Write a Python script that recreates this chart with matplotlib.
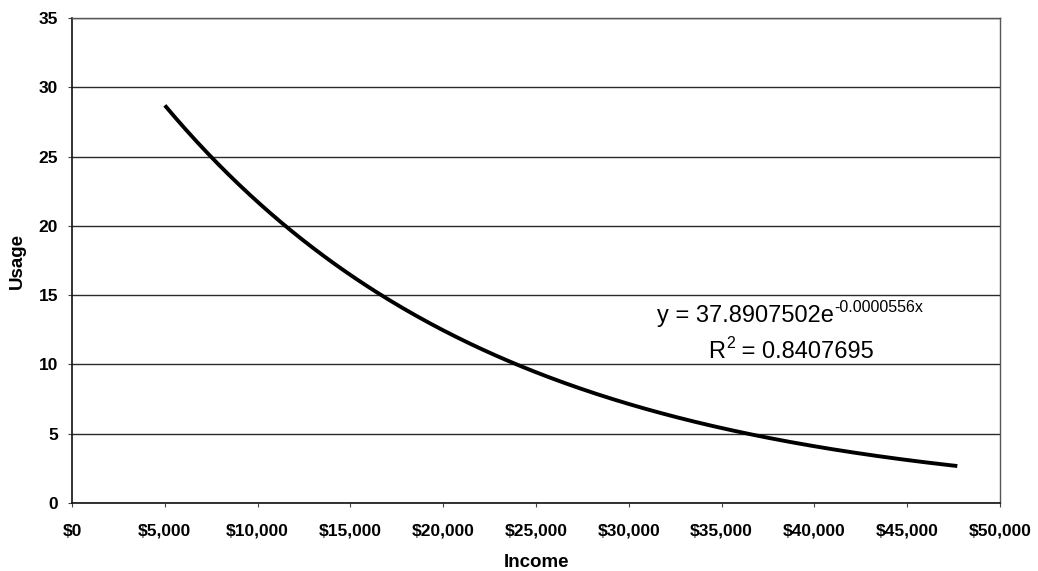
import matplotlib

matplotlib.use("Agg")

import matplotlib.pyplot as plt
import numpy as np
from matplotlib.ticker import FuncFormatter

# exponential trendline: usage = coef * exp(rate * income)
trend_coef = 37.8907502
trend_rate = -0.0000556
r_squared = 0.8407695

income_start = 5000
income_end = 47700

x_ticks = [0, 5000, 10000, 15000, 20000, 25000, 30000, 35000, 40000, 45000, 50000]
y_ticks = [0, 5, 10, 15, 20, 25, 30, 35]

plt.rcParams["font.family"] = ["Liberation Sans", "DejaVu Sans"]

fig = plt.figure(figsize=(10.38, 5.71), dpi=100)
ax = fig.add_axes([0.0694, 0.119, 0.894, 0.8495])

income = np.linspace(income_start, income_end, 300)
usage = trend_coef * np.exp(trend_rate * income)
ax.plot(income, usage, color="black", linewidth=2.8, solid_capstyle="butt")

ax.set_xlim(0, 50000)
ax.set_ylim(0, 35)
ax.set_xticks(x_ticks)
ax.set_yticks(y_ticks)
ax.xaxis.set_major_formatter(FuncFormatter(lambda v, p: "${:,.0f}".format(v)))

ax.grid(True, axis="y", color="#2a2a2a", linewidth=1.0)
ax.set_axisbelow(True)

for side in ["left", "bottom"]:
    ax.spines[side].set_color("#111111")
    ax.spines[side].set_linewidth(1.2)
for side in ["top", "right"]:
    ax.spines[side].set_color("#555555")
    ax.spines[side].set_linewidth(1.0)
    ax.spines[side].set_linestyle((0, (3, 1)))

ax.tick_params(axis="both", direction="out", length=3, width=0.8, color="#444444")
ax.tick_params(axis="x", pad=12)
ax.tick_params(axis="y", pad=7)
for lbl in ax.get_xticklabels() + ax.get_yticklabels():
    lbl.set_fontweight("bold")
    lbl.set_fontsize(12.5)

ax.set_xlabel("Income", fontsize=13.5, fontweight="bold", labelpad=11)
ax.set_ylabel("Usage", fontsize=13.5, fontweight="bold", labelpad=9)

# trendline equation with raised exponent
eq_y = 13.06
eq_main = ax.text(31520, eq_y, "y = {:.7f}e".format(trend_coef), fontsize=17,
                  ha="left", va="baseline")
ax.annotate("{:.7f}x".format(trend_rate), xy=(1, eq_y), xycoords=(eq_main, "data"),
            xytext=(0.5, 7.5), textcoords="offset points", fontsize=11.5,
            ha="left", va="baseline")

r2_y = 10.46
r2_main = ax.text(34270, r2_y, "R", fontsize=17, ha="left", va="baseline")
r2_sup = ax.annotate("2", xy=(1, r2_y), xycoords=(r2_main, "data"),
                     xytext=(0.5, 7.5), textcoords="offset points", fontsize=11.5,
                     ha="left", va="baseline")
ax.annotate(" = {:.7f}".format(r_squared), xy=(1, r2_y), xycoords=(r2_sup, "data"),
            xytext=(0, 0), textcoords="offset points", fontsize=17,
            ha="left", va="baseline")

plt.savefig("out.png", dpi=100)
plt.close()
